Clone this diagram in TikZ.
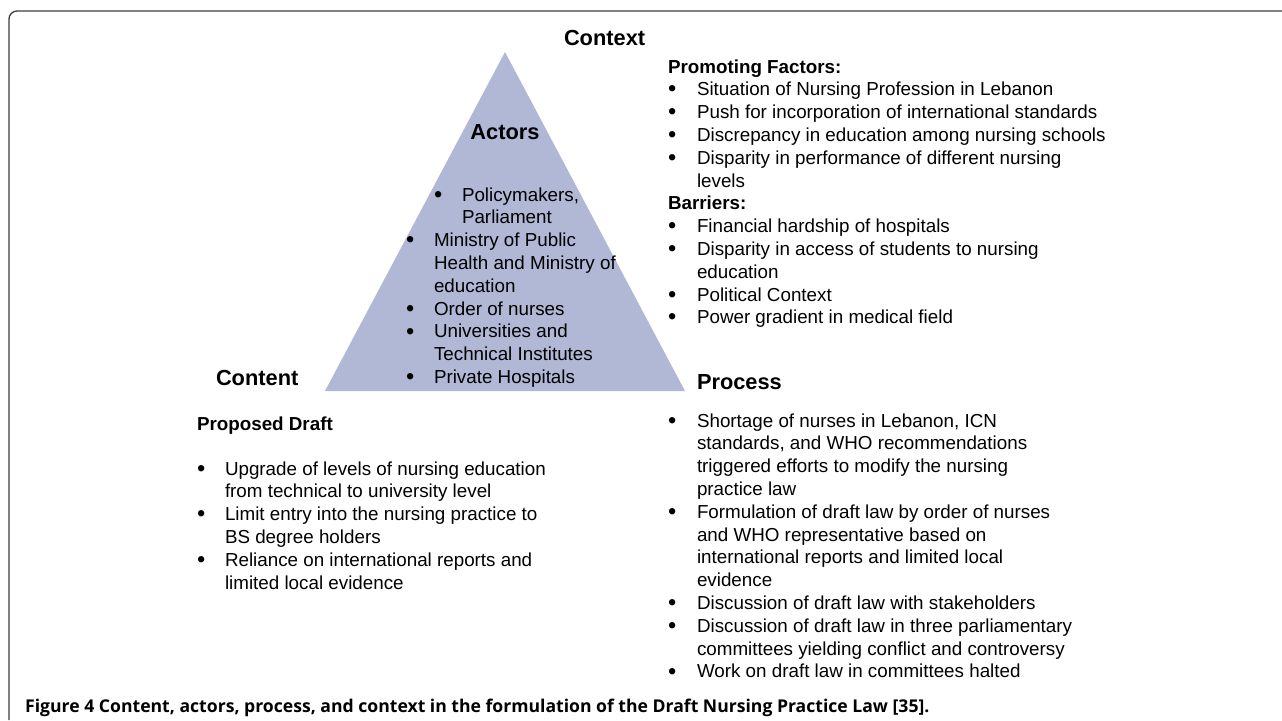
\documentclass[tikz,border=0pt]{standalone}
\usepackage{fontspec}
\usepackage{array}
\setmainfont{Liberation Sans}
\newfontfamily\capfont{Open Sans}
\definecolor{trifill}{RGB}{176,184,214}
\definecolor{framecol}{RGB}{60,60,60}
\newcommand\bodysize{\fontsize{18.8}{22.8}\selectfont}
\newcommand\headsize{\fontsize{21.8}{26}\selectfont\bfseries}
\newcommand\bul{\raisebox{-1.2pt}{\scalebox{1.25}{\textbullet}}}
\tikzset{
  txt/.style={anchor=base west, inner sep=0pt, outer sep=0pt, font=\bodysize, align=left},
  head/.style={anchor=base west, inner sep=0pt, outer sep=0pt, font=\headsize},
  frameline/.style={draw=framecol, line width=1.3pt, rounded corners=8pt},
  tri/.style={fill=trifill}
}
\begin{document}
\begin{tikzpicture}[x=1pt,y=-1pt]
\useasboundingbox (0,0) rectangle (1282,720);
% frame
\coordinate (fb) at (9,720);
\coordinate (fc) at (9,11);
\coordinate (fr) at (1282,11);
\draw[frameline] (fb) -- (fc) -- (fr);
% triangle
\coordinate (apex) at (505,52);
\coordinate (bl) at (325,391);
\coordinate (br) at (685,391);
\fill[tri] (apex) -- (bl) -- (br) -- cycle;
% headings
\node[head] (context) at (564,45) {Context};
\node[head, anchor=base] (actors) at (505,139) {Actors};
\node[head] (content) at (216,385) {Content};
\node[head] (process) at (697,389) {Process};
% actors list
\node[txt] (act1) at (434.2,201) {%
\begin{tabular}[t]{@{}p{27.8pt}@{}l@{}}
\bul & Policymakers,\\
 & Parliament
\end{tabular}};
\node[txt] (act2) at (406.2,246.6) {%
\begin{tabular}[t]{@{}p{27.8pt}@{}l@{}}
\bul & Ministry of Public\\
 & Health and Ministry of\\
 & education\\
\bul & Order of nurses\\
\bul & Universities and\\
 & Technical Institutes\\
\bul & Private Hospitals
\end{tabular}};
% context list
\node[txt] (ctx) at (668,73) {%
\begin{tabular}[t]{@{}p{29pt}@{}l@{}}
\multicolumn{2}{@{}l@{}}{\bfseries Promoting Factors:}\\
\bul & Situation of Nursing Profession in Lebanon\\
\bul & Push for incorporation of international standards\\
\bul & Discrepancy in education among nursing schools\\
\bul & Disparity in performance of different nursing\\
 & levels\\
\multicolumn{2}{@{}l@{}}{\bfseries Barriers:}\\
\bul & Financial hardship of hospitals\\
\bul & Disparity in access of students to nursing\\
 & education\\
\bul & Political Context\\
\bul & Power gradient in medical field
\end{tabular}};
% content
\node[txt, font=\bodysize\bfseries] (draft) at (197,430) {Proposed Draft};
\node[txt] (cnt) at (197,475) {%
\begin{tabular}[t]{@{}p{28pt}@{}l@{}}
\bul & Upgrade of levels of nursing education\\
 & from technical to university level\\
\bul & Limit entry into the nursing practice to\\
 & BS degree holders\\
\bul & Reliance on international reports and\\
 & limited local evidence
\end{tabular}};
% process
\node[txt] (proc) at (668,427) {%
\begin{tabular}[t]{@{}p{29pt}@{}l@{}}
\bul & Shortage of nurses in Lebanon, ICN\\
 & standards, and WHO recommendations\\
 & triggered efforts to modify the nursing\\
 & practice law\\
\bul & Formulation of draft law by order of nurses\\
 & and WHO representative based on\\
 & international reports and limited local\\
 & evidence\\
\bul & Discussion of draft law with stakeholders\\
\bul & Discussion of draft law in three parliamentary\\
 & committees yielding conflict and controversy\\
\bul & Work on draft law in committees halted
\end{tabular}};
% caption
\node[anchor=base west, inner sep=0pt, font=\capfont\bfseries\fontsize{17.6}{20}\selectfont] (cap) at (25,712)
  {Figure 4 Content, actors, process, and context in the formulation of the Draft Nursing Practice Law [35].};
\end{tikzpicture}
\end{document}
